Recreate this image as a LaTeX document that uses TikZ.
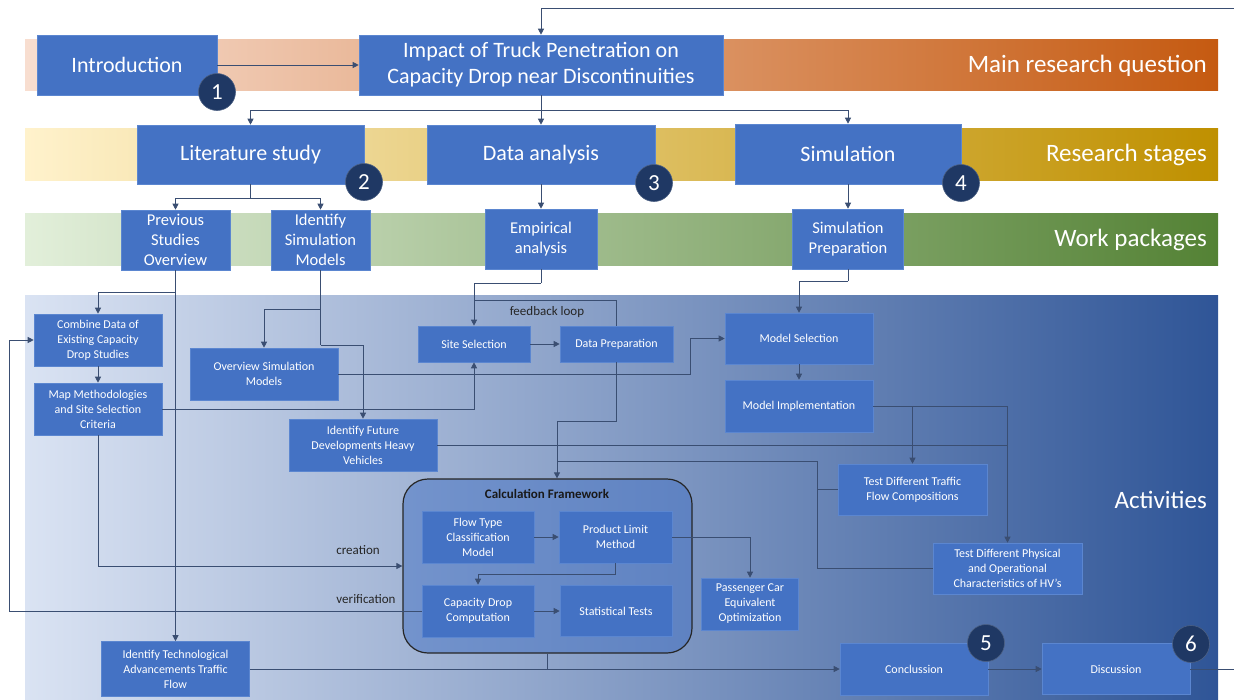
\documentclass[tikz,border=0pt]{standalone}
\usepackage{fontspec}
\setmainfont{Carlito}
\usetikzlibrary{arrows.meta,calc}
\definecolor{boxblue}{HTML}{4472C4}
\definecolor{boxedge}{HTML}{5B86D0}
\definecolor{wirec}{HTML}{3A4E72}
\definecolor{navy}{HTML}{1F3864}
\begin{document}
\begin{tikzpicture}[x=1pt,y=-1pt,
  box/.style={draw=boxedge, line width=0.6pt, fill=boxblue, text=white, align=center, inner sep=2pt},
  big/.style={box, font=\fontsize{22}{26}\selectfont},
  mid/.style={box, font=\fontsize{16.5}{20}\selectfont},
  small/.style={box, font=\fontsize{12}{15}\selectfont},
  num/.style={circle, fill=navy, draw=navy!80!white, line width=0.6pt, text=white, minimum size=37pt, inner sep=0pt, font=\fontsize{23}{23}\selectfont},
  wire/.style={draw=wirec, line width=0.8pt},
  arr/.style={wire, -{Triangle[length=6pt,width=6pt]}},
  bandlab/.style={font=\fontsize{25}{25}\selectfont, text=white, anchor=east, inner sep=0pt},
  lab/.style={font=\fontsize{13}{13}\selectfont, text=black!85, inner sep=0pt}
]
\useasboundingbox (0,0) rectangle (1234,699);
% bands
\shade[left color={rgb,255:red,248;green,222;blue,208}, middle color={rgb,255:red,224;green,165;blue,138}, right color={rgb,255:red,197;green,90;blue,17}] (25,39) rectangle (1218,90);
\shade[left color={rgb,255:red,255;green,242;blue,204}, middle color={rgb,255:red,230;green,207;blue,155}, right color={rgb,255:red,191;green,144;blue,0}] (25,128) rectangle (1218,180);
\shade[left color={rgb,255:red,226;green,239;blue,218}, middle color={rgb,255:red,170;green,196;blue,155}, right color={rgb,255:red,84;green,130;blue,53}] (25,213) rectangle (1218,265);
\shade[left color={rgb,255:red,218;green,227;blue,243}, middle color={rgb,255:red,158;green,172;blue,204}, right color={rgb,255:red,47;green,85;blue,151}] (25,295) rectangle (1218,699);

\node[bandlab] (l1) at (1207,66) {Main research question};
\node[bandlab] (l2) at (1207,155) {Research stages};
\node[bandlab] (l3) at (1207,240) {Work packages};
\node[bandlab] (l4) at (1207,500) {Activities};

% calculation framework
\node[draw=black!85, line width=1.2pt, fill=boxblue, fill opacity=0.5, rounded corners=25pt, minimum width=289pt, minimum height=174pt] (frame) at (547.5,566) {};
\node[font=\fontsize{13}{13}\selectfont\bfseries, text=black!90, inner sep=0pt] (ftitle) at (547,494) {Calculation Framework};

% top level
\node[big, minimum width=180pt, minimum height=60pt] (intro) at (127,65) {Introduction};
\node[big, minimum width=364pt, minimum height=60pt] (impact) at (541,65) {Impact of Truck Penetration on\\Capacity Drop near Discontinuities};
\node[big, minimum width=227pt, minimum height=59pt] (lit) at (250.5,154.5) {Literature study};
\node[big, minimum width=228pt, minimum height=59pt] (data) at (541,154.5) {Data analysis};
\node[big, minimum width=226pt, minimum height=60pt] (sim) at (848,154) {Simulation};

% work packages
\node[mid, minimum width=109pt, minimum height=60pt] (prev) at (175.5,240) {Previous\\Studies\\Overview};
\node[mid, minimum width=99pt, minimum height=60pt] (idsim) at (320.5,240) {Identify\\Simulation\\Models};
\node[mid, minimum width=112pt, minimum height=60pt] (emp) at (541,239) {Empirical\\analysis};
\node[mid, minimum width=111pt, minimum height=60pt] (simprep) at (848,239) {Simulation\\Preparation};

% activities
\node[small, minimum width=128pt, minimum height=52pt] (combine) at (98,340) {Combine Data of\\Existing Capacity\\Drop Studies};
\node[small, minimum width=128pt, minimum height=52pt] (map) at (98,409) {Map Methodologies\\and Site Selection\\Criteria};
\node[small, minimum width=148pt, minimum height=52pt] (overview) at (264,374) {Overview Simulation\\Models};
\node[small, minimum width=148pt, minimum height=52pt] (future) at (363,445) {Identify Future\\Developments Heavy\\Vehicles};
\node[small, minimum width=112pt, minimum height=36pt] (site) at (474,344) {Site Selection};
\node[small, minimum width=113pt, minimum height=36pt] (dataprep) at (616.5,344) {Data Preparation};
\node[small, minimum width=148pt, minimum height=51pt] (modsel) at (799,338.5) {Model Selection};
\node[small, minimum width=148pt, minimum height=52pt] (modimp) at (799,406) {Model Implementation};
\node[small, minimum width=149pt, minimum height=51pt] (traffic) at (912.5,489.5) {Test Different Traffic\\Flow Compositions};
\node[small, minimum width=149pt, minimum height=51pt] (physical) at (1007.5,568.5) {Test Different Physical\\and Operational\\Characteristics of HV’s};
\node[small, minimum width=97pt, minimum height=52pt] (pce) at (750,604) {Passenger Car\\Equivalent\\Optimization};
\node[small, minimum width=148pt, minimum height=52pt] (conc) at (914,669) {Conclussion};
\node[small, minimum width=148pt, minimum height=51pt] (disc) at (1116,669) {Discussion};
\node[small, minimum width=148pt, minimum height=55pt] (tech) at (175.5,669) {Identify Technological\\Advancements Traffic\\Flow};
\node[small, minimum width=112pt, minimum height=52pt] (flow) at (478,537) {Flow Type\\Classification\\Model};
\node[small, minimum width=113pt, minimum height=52pt] (plm) at (615.5,537) {Product Limit\\Method};
\node[small, minimum width=112pt, minimum height=52pt] (cdc) at (478,611) {Capacity Drop\\Computation};
\node[small, minimum width=112pt, minimum height=51pt] (stat) at (616,611) {Statistical Tests};

% coordinates
\coordinate (topR) at (1234,8);
\coordinate (b1) at (541,110);
\coordinate (b2) at (250.5,198);
\coordinate (b3) at (175.5,292);
\coordinate (b4) at (320.5,309);
\coordinate (b5) at (320.5,345);
\coordinate (b6) at (541,283);
\coordinate (fb) at (474,300);
\coordinate (b8) at (690,374);
\coordinate (b9) at (848,281);
\coordinate (b10) at (912.5,406);
\coordinate (b11) at (616.5,421);
\coordinate (b12) at (557,421);
\coordinate (b13) at (817,461);
\coordinate (b14) at (557,461);
\coordinate (b15) at (615.5,574);
\coordinate (b16) at (9,611);
\coordinate (endR) at (1234,669);

% connectors
\draw[arr] (topR) -| (impact.north);
\draw[arr] (intro.east) -- (impact.west);
\draw[wire] (impact.south) -- (b1);
\draw[arr] (b1) -| (lit.north);
\draw[arr] (b1) -| (sim.north);
\draw[arr] (b1) -- (data.north);
\draw[wire] (lit.south) -- (b2);
\draw[arr] (b2) -| (prev.north);
\draw[arr] (b2) -| (idsim.north);
\draw[arr] (data.south) -- (emp.north);
\draw[arr] (sim.south) -- (simprep.north);
\draw[arr] (prev.south) -- (tech.north);
\draw[arr] (b3) -| (combine.north);
\draw[arr] (combine.south) -- (map.north);
\draw[wire] (idsim.south) -- (b5);
\draw[arr] (b4) -| (overview.north);
\draw[arr] (b5) -| (future.north);
\draw[arr] (map.east) -| (site.south);
\draw[wire] (emp.south) -- (b6);
\draw[arr] (b6) -| (site.north);
\draw[wire] (dataprep.north) |- (fb);
\draw[arr] (site.east) -- (dataprep.west);
\draw[arr] (overview.east) -- (b8) |- (modsel.west);
\draw[wire] (simprep.south) -- (b9);
\draw[arr] (b9) -| (modsel.north);
\draw[arr] (modsel.south) -- (modimp.north);
\draw[arr] (modimp.east) -| (physical.north);
\draw[arr] (b10) -- (traffic.north);
\draw[wire] (future.east) -- (future.east -| physical.north);
\draw[arr] (dataprep.south) -- (b11) -- (b12) -- (b12 |- frame.north);
\draw[wire] (traffic.west) -| (b13);
\draw[wire] (physical.west) -| (b13) -- (b14);
\draw[arr] (flow.east) -- (plm.west);
\draw[arr] (plm.south) -- (b15) -| (cdc.north);
\draw[arr] (cdc.east) -- (stat.west);
\draw[arr] (plm.east) -| (pce.north);
\draw[arr] (map.south) |- (frame.west);
\draw[arr] (cdc.west) -- (b16) |- (combine.west);
\draw[arr] (frame.south) |- (conc.west);
\draw[wire] (tech.east) -- (tech.east -| frame.south);
\draw[arr] (conc.east) -- (disc.west);
\draw[wire] (disc.east) -- (endR);

% labels
\node[lab] (fbl) at (547,312) {feedback loop};
\node[lab] (crl) at (358,550) {creation};
\node[lab] (vrl) at (366,599) {verification};

% numbers
\node[num] (n1) at (217,92) {1};
\node[num] (n2) at (364,182) {2};
\node[num] (n3) at (654,183) {3};
\node[num] (n4) at (961,183) {4};
\node[num] (n5) at (986,643) {5};
\node[num] (n6) at (1191,644) {6};
\end{tikzpicture}
\end{document}
